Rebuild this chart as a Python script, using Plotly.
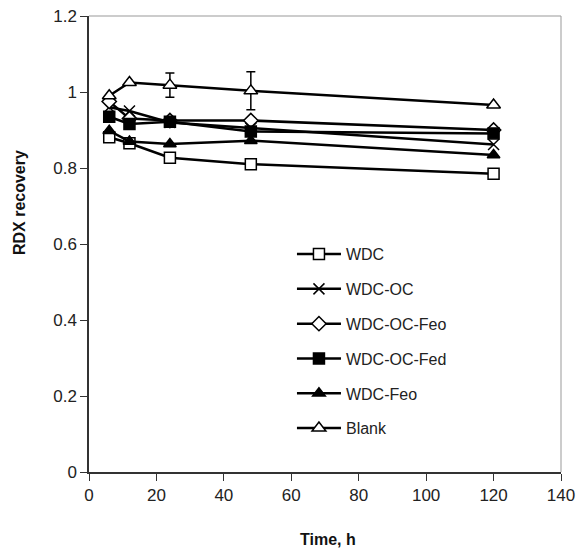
import plotly.graph_objects as go

time_h = [6, 12, 24, 48, 120]
series_names = ["WDC", "WDC-OC", "WDC-OC-Feo", "WDC-OC-Fed", "WDC-Feo", "Blank"]
wdc = [0.881, 0.865, 0.827, 0.81, 0.785]
wdc_oc = [0.96, 0.95, 0.92, 0.905, 0.862]
wdc_oc_feo = [0.975, 0.93, 0.925, 0.925, 0.90]
wdc_oc_fed = [0.935, 0.916, 0.922, 0.896, 0.891]
wdc_feo = [0.898, 0.87, 0.863, 0.872, 0.834]
blank = [0.99, 1.025, 1.018, 1.003, 0.966]
blank_err = [0, 0, 0.032, 0.05, 0]

values = [wdc, wdc_oc, wdc_oc_feo, wdc_oc_fed, wdc_feo, blank]
symbols = ["square", "x-thin", "diamond", "square", "triangle-up", "triangle-up"]
fills = ["white", "black", "white", "black", "black", "white"]
sizes = [11, 11, 11, 11, 11, 12]

fig = go.Figure()
for i, (name, ys) in enumerate(zip(series_names, values)):
    kw = {}
    if name == "Blank":
        kw["error_y"] = dict(type="data", array=blank_err, visible=True,
                             color="black", thickness=1.5, width=4.5)
    fig.add_trace(go.Scatter(
        x=time_h, y=ys, name=name, mode="lines+markers",
        legendgroup=name,
        line=dict(color="black", width=2.5),
        marker=dict(symbol=symbols[i], size=sizes[i], color=fills[i],
                    line=dict(color="black", width=1.5)),
        **kw))

font = "Liberation Sans, Arial, sans-serif"
fig.update_layout(
    width=579, height=550,
    margin=dict(l=89, r=18, t=16, b=78, autoexpand=False),
    paper_bgcolor="white", plot_bgcolor="white",
    showlegend=True,
    font=dict(family=font, size=17, color="#222"),
    legend=dict(x=0.43, y=0.515, xanchor="left", yanchor="top",
                bgcolor="rgba(0,0,0,0)", font=dict(size=16, color="#222"),
                traceorder="grouped", tracegroupgap=11, itemwidth=44),
    xaxis=dict(range=[0, 140], dtick=20, showgrid=False, zeroline=False,
               showline=True, linecolor="#333", linewidth=1.5,
               ticks="outside", ticklen=7, tickcolor="#333", tickwidth=1.2,
               automargin=False, ticklabeloverflow="allow", tickfont=dict(size=17)),
    yaxis=dict(range=[0, 1.2], dtick=0.2, showgrid=False, zeroline=False,
               showline=True, linecolor="#333", linewidth=1.5,
               ticks="outside", ticklen=7, tickcolor="#333", tickwidth=1.2,
               automargin=False, ticklabeloverflow="allow",
               tickfont=dict(size=17), tickformat="~g"),
    shapes=[
        dict(type="line", xref="paper", yref="paper", x0=1, x1=1, y0=0, y1=1,
             line=dict(color="#999", width=1)),
        dict(type="line", xref="paper", yref="paper", x0=0, x1=1, y0=1, y1=1,
             line=dict(color="#999", width=1)),
    ],
    annotations=[
        dict(text="<b>RDX</b>", x=531, y=1.10, xref="x", yref="y",
             xanchor="right", yanchor="middle", showarrow=False,
             font=dict(size=16, color="#111")),
        dict(text="<b>Time, h</b>", x=0.506, y=-0.149, xref="paper", yref="paper",
             xanchor="center", yanchor="middle", showarrow=False,
             font=dict(size=16, color="#111")),
        dict(text="<b>RDX recovery</b>", x=-0.146, y=0.59, xref="paper", yref="paper",
             xanchor="center", yanchor="middle", showarrow=False, textangle=-90,
             font=dict(size=16, color="#111")),
    ],
)
fig.write_html("out.html", config={"displayModeBar": False},
               post_script="document.body.style.margin='0';document.body.style.overflow='hidden';")
